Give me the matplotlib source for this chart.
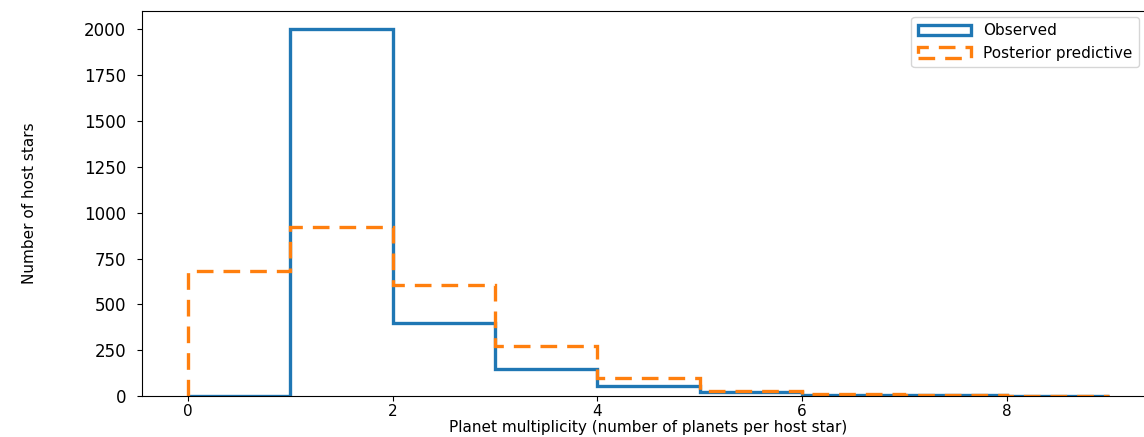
import numpy as np
import matplotlib
matplotlib.use("Agg")
import matplotlib.pyplot as plt

# Datos
multiplicity = [0, 1, 2, 3, 4, 5, 6, 7, 8]
observed = [0, 2000, 398, 147, 54, 20, 6, 3, 1]
predictive = [681, 921, 605, 272, 98, 27, 10, 5, 2]
bin_edges = [0, 1, 2, 3, 4, 5, 6, 7, 8, 9]
xticks = [0, 2, 4, 6, 8]
yticks = [0, 250, 500, 750, 1000, 1250, 1500, 1750, 2000]

fig = plt.figure(figsize=(11.44, 4.37), dpi=100)
ax = fig.add_axes([142 / 1144, 1 - 396 / 437, (1155 - 142) / 1144, (396 - 11) / 437])

ax.hist(multiplicity, bins=bin_edges, weights=observed, histtype="step",
        linewidth=2.4, color="tab:blue", label="Observed")
ax.hist(multiplicity, bins=bin_edges, weights=predictive, histtype="step",
        linewidth=2.4, linestyle=(0, (5, 3)), color="tab:orange",
        label="Posterior predictive")

ax.set_xticks(xticks)
ax.set_yticks(yticks)
ax.tick_params(axis="x", labelsize=11, pad=2)
ax.tick_params(axis="y", labelsize=12, pad=8)
ax.set_xlabel("Planet multiplicity (number of planets per host star)", fontsize=11, labelpad=1)
ax.set_ylabel("Number of host stars", fontsize=11, labelpad=34)
ax.legend(loc="upper right", bbox_to_anchor=(0.99, 1.0), fontsize=11,
          handlelength=3.5, borderaxespad=0.4)

fig.savefig("out.png", dpi=100)
